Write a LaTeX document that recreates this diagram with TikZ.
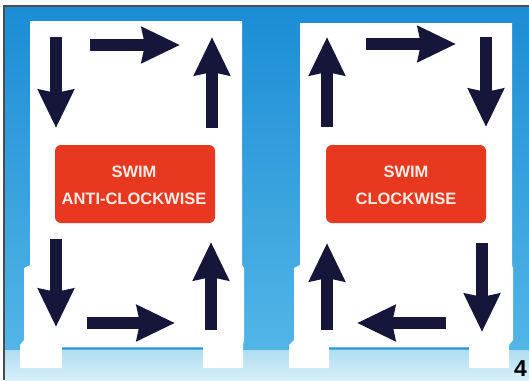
\documentclass[tikz,border=0pt]{standalone}
\usepackage{fontspec}
\setmainfont{Liberation Sans}
\usetikzlibrary{arrows.meta}
\definecolor{navy}{HTML}{16163A}
\definecolor{skytop}{HTML}{1B8DD5}
\definecolor{skybot}{HTML}{52B5E6}
\definecolor{floortop}{HTML}{AEDDF1}
\definecolor{floorbot}{HTML}{D8F0F9}
\definecolor{signred}{HTML}{E8381F}
\definecolor{signtext}{HTML}{FBECE6}
\definecolor{shadow}{HTML}{2F8ECB}
\begin{document}
\begin{tikzpicture}[x=1pt,y=-1pt,
  bigarr/.style={draw=navy, line width=12.5pt, -{Stealth[length=38pt,width=35pt,inset=3pt,fill=navy]}},
  redbox/.style={fill=signred, rounded corners=6pt},
  signtxt/.style={text=signtext, font=\bfseries\fontsize{16.5}{19}\selectfont, inner sep=0pt, anchor=center},
  panel/.style={fill=white}]
\useasboundingbox (0,0) rectangle (529,380);
\fill[white] (0,0) rectangle (529,380);
% sky and floor
\shade[top color=skytop, bottom color=skybot] (4,6) rectangle (529,350);
\shade[top color=floortop, bottom color=floorbot] (4,350) rectangle (529,380);
\draw[line width=1.3pt, draw=black!70] (4,380) -- (4,6) -- (529,6);
% left sign
\fill[panel] (30,21) -- (242,21) -- (242,265) -- (244,268) -- (244,340) -- (243,345) -- (243,368) -- (203,368) -- (203,347) -- (62,347) -- (62,368) -- (20,368) -- (20,345) -- (24,340) -- (24,268) -- (30,265) -- cycle;
\draw[shadow, line width=1.8pt] (62,348.5) -- (203,348.5);
% right sign
\fill[panel] (300,23) -- (512,23) -- (512,265) -- (513,268) -- (513,340) -- (509,345) -- (509,368) -- (469,368) -- (469,347) -- (329,347) -- (329,368) -- (289,368) -- (289,345) -- (294,340) -- (294,268) -- (300,265) -- cycle;
\draw[shadow, line width=1.8pt] (329,348.5) -- (469,348.5);
% red boxes
\fill[redbox] (55,145) rectangle (215,223);
\fill[redbox] (326,145) rectangle (486,223);
\node[signtxt] (l1) at (134,172) {SWIM};
\node[signtxt] (l2) at (134,199) {ANTI-CLOCKWISE};
\node[signtxt] (r1) at (406,172) {SWIM};
\node[signtxt] (r2) at (406,199) {CLOCKWISE};
% arrows left sign
\draw[bigarr] (56,37) -- (56,128);
\draw[bigarr] (90,45) -- (180,45);
\draw[bigarr] (212,128) -- (212,37);
\draw[bigarr] (56,239) -- (56,327);
\draw[bigarr] (87,323) -- (175,323);
\draw[bigarr] (211,330) -- (211,242);
% arrows right sign
\draw[bigarr] (327,127) -- (327,37);
\draw[bigarr] (366,44) -- (456,44);
\draw[bigarr] (486,37) -- (486,127);
\draw[bigarr] (327,330) -- (327,243);
\draw[bigarr] (446,323) -- (357,323);
\draw[bigarr] (482,243) -- (482,332);
% figure number
\node[anchor=base east, inner sep=0pt, font=\bfseries\fontsize{23}{27}\selectfont] (num) at (527,376) {4};
\end{tikzpicture}
\end{document}
